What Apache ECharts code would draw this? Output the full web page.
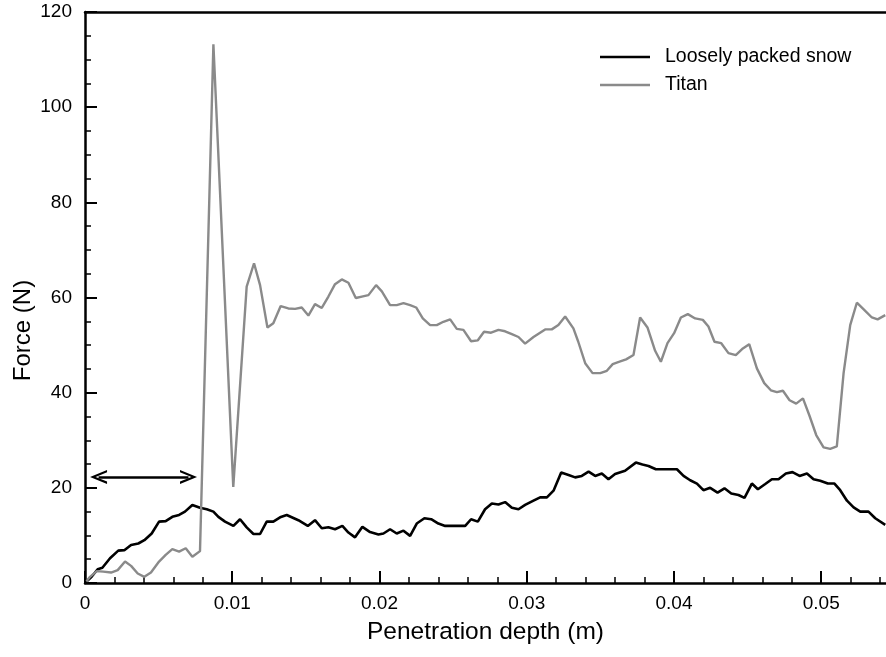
<!DOCTYPE html>
<html>
<head>
<meta charset="utf-8">
<script src="https://cdn.jsdelivr.net/npm/echarts@6/dist/echarts.min.js"></script>
<style>
  html, body { margin: 0; padding: 0; background: #fff; }
  #chart { width: 886px; height: 657px; }
</style>
</head>
<body>
<div id="chart"></div>
<script>
// 数据
var snowDepth = [0.0001, 0.00045, 0.00086, 0.00118, 0.0017, 0.00226, 0.00267, 0.00313, 0.00362, 0.00403,
    0.00453, 0.00503, 0.00548, 0.00593, 0.00639, 0.00679, 0.00729, 0.00781, 0.00827, 0.00872,
    0.00906, 0.00951, 0.01008, 0.01053, 0.01098, 0.01144, 0.01189, 0.01234, 0.01279, 0.01325,
    0.0137, 0.01449, 0.01513, 0.01562, 0.01608, 0.01653, 0.01698, 0.01748, 0.01789, 0.01834,
    0.01884, 0.01936, 0.01993, 0.02027, 0.02072, 0.02117, 0.02163, 0.02208, 0.02253, 0.02305,
    0.02351, 0.0240, 0.02446, 0.02582, 0.02622, 0.02668, 0.02717, 0.02763, 0.02808, 0.02853,
    0.02899, 0.02944, 0.02989, 0.03046, 0.03091, 0.03137, 0.03182, 0.03234, 0.03284, 0.03329,
    0.03374, 0.0342, 0.03465, 0.0351, 0.03555, 0.036, 0.03668, 0.03741, 0.03786, 0.03827,
    0.03877, 0.0402, 0.04065, 0.0411, 0.04156, 0.042, 0.04246, 0.04296, 0.04343, 0.04389,
    0.04438, 0.04479, 0.04529, 0.0457, 0.0462, 0.04665, 0.0471, 0.0476, 0.04805, 0.04853,
    0.04903, 0.04948, 0.04993, 0.05045, 0.0509, 0.05129, 0.05175, 0.0522, 0.05265, 0.05321,
    0.05367, 0.05435];
var snowForce = [0.3, 1.3, 2.9, 3.2, 5.2, 6.8, 6.9, 8.0, 8.3, 9.0,
    10.4, 12.9, 13.0, 13.9, 14.3, 15.0, 16.4, 15.8, 15.5, 15.0,
    13.9, 12.9, 12.0, 13.4, 11.7, 10.3, 10.3, 12.9, 12.9, 13.8,
    14.3, 13.2, 12.0, 13.2, 11.5, 11.7, 11.3, 12.0, 10.6, 9.6,
    11.8, 10.7, 10.2, 10.4, 11.3, 10.4, 11.0, 9.9, 12.5, 13.6,
    13.4, 12.5, 12.0, 12.0, 13.4, 12.9, 15.5, 16.7, 16.5, 17.0,
    15.8, 15.5, 16.4, 17.3, 18.0, 18.0, 19.4, 23.2, 22.7, 22.2,
    22.5, 23.4, 22.5, 23.0, 21.8, 22.9, 23.6, 25.3, 24.9, 24.6,
    23.9, 23.9, 22.5, 21.6, 20.9, 19.5, 20.0, 19.0, 19.9, 18.8,
    18.5, 17.9, 20.9, 19.7, 20.8, 21.8, 21.8, 23.0, 23.3, 22.5,
    23.0, 21.8, 21.5, 20.9, 20.9, 19.5, 17.3, 15.9, 15.0, 15.0,
    13.6, 12.2];

var titanDepth = [0.0001, 0.00034, 0.0008, 0.00124, 0.00177, 0.00222, 0.00272, 0.00313, 0.00358, 0.00403,
    0.00448, 0.00503, 0.00548, 0.00593, 0.00639, 0.00684, 0.00729, 0.00781, 0.00872, 0.01007,
    0.01098, 0.01148, 0.01189, 0.01239, 0.01279, 0.01329, 0.01381, 0.01427, 0.01472, 0.01517,
    0.01562, 0.01608, 0.01653, 0.01698, 0.01744, 0.01789, 0.01839, 0.0188, 0.01925, 0.01977,
    0.02016, 0.02072, 0.02117, 0.02163, 0.02208, 0.02249, 0.02294, 0.02344, 0.02389, 0.02434,
    0.0248, 0.02525, 0.0257, 0.02622, 0.02668, 0.0271, 0.02758, 0.02808, 0.02853, 0.02899,
    0.02944, 0.02989, 0.03046, 0.03125, 0.0317, 0.03215, 0.03261, 0.03317, 0.0335, 0.03397,
    0.03447, 0.03499, 0.03544, 0.03584, 0.0363, 0.03675, 0.03725, 0.0377, 0.0382, 0.03872,
    0.03911, 0.03956, 0.04001, 0.04047, 0.04094, 0.04144, 0.04196, 0.04234, 0.04275, 0.04321,
    0.0437, 0.0442, 0.04468, 0.04511, 0.04563, 0.04613, 0.04658, 0.04699, 0.0474, 0.04785,
    0.0483, 0.04876, 0.04921, 0.04966, 0.05016, 0.05061, 0.05106, 0.05152, 0.05197, 0.05242,
    0.05292, 0.05344, 0.05383, 0.05435];
var titanForce = [0.3, 1.3, 2.5, 2.4, 2.2, 2.7, 4.5, 3.6, 2.0, 1.3,
    2.2, 4.5, 5.9, 7.1, 6.6, 7.3, 5.5, 6.7, 113.2, 20.2,
    62.3, 67.2, 62.6, 53.7, 54.6, 58.2, 57.7, 57.6, 57.9, 56.2,
    58.6, 57.8, 60.2, 62.8, 63.8, 63.1, 59.9, 60.2, 60.5, 62.6,
    61.3, 58.4, 58.4, 58.8, 58.4, 57.9, 55.6, 54.2, 54.2, 54.9,
    55.4, 53.4, 53.2, 50.8, 51.0, 52.8, 52.6, 53.2, 52.9, 52.3,
    51.7, 50.3, 51.7, 53.3, 53.3, 54.2, 56.0, 53.5, 50.7, 46.2,
    44.1, 44.1, 44.6, 46.0, 46.5, 47.0, 47.9, 55.8, 53.7, 48.8,
    46.5, 50.4, 52.5, 55.8, 56.5, 55.6, 55.3, 53.9, 50.7, 50.4,
    48.3, 47.9, 49.3, 50.2, 45.1, 42.0, 40.5, 40.1, 40.4, 38.4,
    37.7, 38.8, 35.1, 31.1, 28.5, 28.2, 28.7, 44.1, 54.2, 58.9,
    57.4, 55.8, 55.4, 56.3];

var xMajorTicks = [0, 0.01, 0.02, 0.03, 0.04, 0.05];
var xMinorTicks = [0.002, 0.004, 0.006, 0.008, 0.012, 0.014, 0.016, 0.018, 0.022, 0.024, 0.026, 0.028,
    0.032, 0.034, 0.036, 0.038, 0.042, 0.044, 0.046, 0.048, 0.052, 0.054];
// 双向箭头（两个箭头中心的x, 力值）
var arrowSpan = [0.00092, 0.00703];
var arrowForce = 22.3;

var seriesNames = ['Loosely packed snow', 'Titan'];

function pairs(xs, ys) {
    return xs.map(function (x, i) { return [x, ys[i]]; });
}

var font = '"Liberation Sans", Arial, Helvetica, sans-serif';
var chevron = 'path://M0,0L7,17L4.6,17L0,5.6L-4.6,17L-7,17Z';

var myChart = echarts.init(document.getElementById('chart'), null, { renderer: 'canvas' });
var option = {
    animation: false,
    backgroundColor: '#fff',
    textStyle: { fontFamily: font },
    grid: { left: 85, right: 0, top: 12, bottom: 74, outerBoundsMode: 'none' },
    legend: {
        orient: 'vertical',
        left: 595,
        top: 42,
        itemWidth: 50,
        itemHeight: 14,
        itemGap: 8,
        symbolKeepAspect: true,
        data: [
            { name: seriesNames[0], icon: 'path://M0,0H50V2.6H0Z' },
            { name: seriesNames[1], icon: 'path://M0,0H50V2.4H0Z' }
        ],
        textStyle: { fontFamily: font, fontSize: 19.5, color: '#000', padding: [0, 0, 0, 10] }
    },
    xAxis: [
        {
            type: 'value',
            min: 0,
            max: 0.0544,
            name: 'Penetration depth (m)',
            nameLocation: 'middle',
            nameGap: 37,
            nameMoveOverlap: false,
            nameTextStyle: { fontFamily: font, fontSize: 24.5, color: '#000' },
            axisLine: { show: true, lineStyle: { color: '#000', width: 2.5 } },
            axisTick: { inside: true, length: 12, lineStyle: { color: '#000', width: 2 }, customValues: xMajorTicks },
            axisLabel: { fontFamily: font, fontSize: 19, color: '#000', margin: 11, customValues: xMajorTicks },
            splitLine: { show: false }
        },
        {
            type: 'value',
            min: 0,
            max: 0.0544,
            position: 'bottom',
            axisLine: { show: false },
            axisTick: { inside: true, length: 6, lineStyle: { color: '#000', width: 1.5 }, customValues: xMinorTicks },
            axisLabel: { show: false },
            splitLine: { show: false }
        },
        {
            type: 'value',
            min: 0,
            max: 0.0544,
            position: 'top',
            axisLine: { show: true, lineStyle: { color: '#000', width: 2.5 } },
            axisTick: { show: false },
            axisLabel: { show: false },
            splitLine: { show: false }
        }
    ],
    yAxis: {
        type: 'value',
        min: 0,
        max: 120,
        interval: 20,
        name: 'Force (N)',
        nameLocation: 'middle',
        nameGap: 50,
        nameMoveOverlap: false,
        nameTextStyle: { fontFamily: font, fontSize: 24, color: '#000', padding: [0, 66, 0, 0] },
        axisLine: { show: true, lineStyle: { color: '#000', width: 2.5 } },
        axisTick: { inside: true, length: 12, lineStyle: { color: '#000', width: 2 } },
        minorTick: { show: true, splitNumber: 4, length: 6, lineStyle: { color: '#000', width: 1.5 } },
        axisLabel: { fontFamily: font, fontSize: 19, color: '#000', margin: 13 },
        splitLine: { show: false }
    },
    series: [
        {
            name: seriesNames[0],
            type: 'line',
            symbol: 'none',
            data: pairs(snowDepth, snowForce),
            lineStyle: { color: '#000', width: 2.6 },
            itemStyle: { color: '#000' },
            markLine: {
                silent: true,
                symbol: [chevron, chevron],
                symbolSize: [14, 17],
                label: { show: false },
                lineStyle: { color: '#000', width: 2.5, type: 'solid' },
                itemStyle: { color: '#000' },
                data: [[
                    { coord: [arrowSpan[0], arrowForce] },
                    { coord: [arrowSpan[1], arrowForce] }
                ]]
            }
        },
        {
            name: seriesNames[1],
            type: 'line',
            symbol: 'none',
            data: pairs(titanDepth, titanForce),
            lineStyle: { color: '#8a8a8a', width: 2.4 },
            itemStyle: { color: '#8a8a8a' }
        }
    ]
};
myChart.setOption(option);
</script>
</body>
</html>
